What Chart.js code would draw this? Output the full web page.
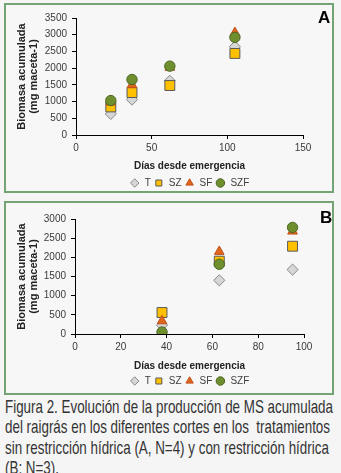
<!DOCTYPE html>
<html>
<head>
<meta charset="utf-8">
<script src="https://cdn.jsdelivr.net/npm/chart.js@4.4.1/dist/chart.umd.min.js"></script>
<style>
  html, body { margin: 0; padding: 0; background: #f5f5f5; }
  body { width: 341px; height: 473px; position: relative; overflow: hidden; font-family: "Liberation Sans", Arial, sans-serif; }
  .panel { position: absolute; left: 4px; width: 326px; border: 2px solid #74a474; background: #f7f7f7; }
  #pA { top: 3px; height: 186px; }
  #pB { top: 201px; height: 190px; }
  .panel canvas { position: absolute; left: 0; top: 0; }
  .tag { position: absolute; font: bold 17px "Liberation Sans", Arial, sans-serif; color: #000; }
  #caption { position: absolute; left: 5px; top: 397px; color: #333; font-family: "Liberation Sans Narrow", "Liberation Sans", Arial, sans-serif; font-size: 19px; line-height: 20.3px; white-space: nowrap; transform-origin: 0 0; }
</style>
</head>
<body>
<div class="panel" id="pA"><canvas id="cA" width="326" height="186"></canvas><div class="tag" style="left:312px;top:3px;">A</div></div>
<div class="panel" id="pB"><canvas id="cB" width="326" height="190"></canvas><div class="tag" style="left:314px;top:5px;">B</div></div>
<div id="caption">
<div>Figura 2. Evolución de la producción de MS acumulada</div>
<div>del raigrás en los diferentes cortes en los&nbsp; tratamientos</div>
<div>sin restricción hídrica (A, N=4) y con restricción hídrica</div>
<div>(B; N=3).</div>
</div>
<script>
// ---- Data ----
const seriesNames = ['T', 'SZ', 'SF', 'SZF'];

const daysA = [23, 37, 62, 105];
const A_T   = [630, 1060, 1620, 2640];
const A_SZ  = [840, 1270, 1480, 2440];
const A_SF  = [980, 1500, 2020, 3060];
const A_SZF = [1030, 1660, 2060, 2920];

const daysB = [38, 63, 95];
const B_T   = [230, 1400, 1680];
const B_SZ  = [560, 1900, 2290];
const B_SF  = [340, 2150, 2680];
const B_SZF = [50, 1820, 2780];

const xTicksA = [0, 50, 100, 150];
const yTicksA = [0, 500, 1000, 1500, 2000, 2500, 3000, 3500];
const xTicksB = [0, 20, 40, 60, 80, 100];
const yTicksB = [0, 500, 1000, 1500, 2000, 2500, 3000];

const yTitle = ['Biomasa acumulada', '(mg maceta-1)'];
const xTitle = 'Días desde emergencia';

// ---- Styles ----
const styles = [
  { pointStyle: 'rectRot',  pointRadius: 5.6, backgroundColor: '#d6d6d6', borderColor: '#8a8a8a', order: 3 },
  { pointStyle: 'rect',     pointRadius: 7,   backgroundColor: '#ffc000', borderColor: '#595959', order: 2 },
  { pointStyle: 'triangle', pointRadius: 5.6, backgroundColor: '#e0661c', borderColor: '#c0501a', order: 1 },
  { pointStyle: 'circle',   pointRadius: 5.2, backgroundColor: '#6f8f2e', borderColor: '#4c6620', order: 0 }
];

function build(id, days, vals, xT, yT, dims) {
  const datasets = vals.map((v, i) => Object.assign({
    label: seriesNames[i],
    data: days.map((d, j) => ({ x: d, y: v[j] })),
    showLine: false,
    borderWidth: 1,
    pointHoverRadius: styles[i].pointRadius
  }, styles[i]));
  const tickFont = { family: 'Liberation Sans', size: 10 };
  const legendHeight = {
    id: 'legendHeight',
    beforeInit(chart) {
      const lg = chart.legend;
      if (!lg) return;
      const orig = lg.fit.bind(lg);
      lg.fit = function () { orig(); this.height = dims.lh; };
    }
  };
  return new Chart(document.getElementById(id), {
    type: 'scatter',
    data: { datasets },
    plugins: [legendHeight],
    options: {
      responsive: false,
      devicePixelRatio: 1,
      animation: false,
      layout: { padding: { left: 0, right: dims.right, top: dims.top, bottom: 0 } },
      plugins: {
        tooltip: { enabled: false },
        legend: {
          position: 'bottom',
          fullSize: false,
          labels: {
            usePointStyle: true,
            boxHeight: 6,
            padding: 3,
            color: '#404040',
            font: { family: 'Liberation Sans', size: 10 },
            sort: (a, b) => a.datasetIndex - b.datasetIndex
          }
        }
      },
      scales: {
        x: {
          type: 'linear',
          min: xT[0], max: xT[xT.length - 1],
          afterBuildTicks: s => { s.ticks = xT.map(v => ({ value: v })); },
          afterFit: s => { s.height = dims.xh; },
          ticks: { color: '#3a3a3a', font: tickFont, padding: 3, callback: v => String(v), maxRotation: 0 },
          grid: { drawOnChartArea: false, drawTicks: true, tickLength: 4, color: '#000' },
          border: { color: '#000', width: 1 },
          title: { display: true, text: xTitle, color: '#222', font: { family: 'Liberation Sans', size: 10, weight: 'bold' }, padding: { top: 0, bottom: dims.tpb } }
        },
        y: {
          type: 'linear',
          min: yT[0], max: yT[yT.length - 1],
          afterBuildTicks: s => { s.ticks = yT.map(v => ({ value: v })); },
          afterFit: s => { s.width = dims.yw; },
          ticks: { color: '#3a3a3a', font: tickFont, padding: 5, callback: v => String(v) },
          grid: { drawOnChartArea: false, drawTicks: true, tickLength: 4, color: '#000' },
          border: { color: '#000', width: 1 },
          title: { display: true, text: yTitle, color: '#222', font: { family: 'Liberation Sans', size: 11, weight: 'bold', lineHeight: 1.1 }, padding: { top: 10, bottom: 0 } }
        }
      }
    }
  });
}

build('cA', daysA, [A_T, A_SZ, A_SF, A_SZF], xTicksA, yTicksA, { right: 29, top: 13, xh: 40, yw: 70, lh: 16, tpb: 3 });
build('cB', daysB, [B_T, B_SZ, B_SF, B_SZF], xTicksB, yTicksB, { right: 28, top: 16, xh: 39, yw: 69, lh: 20, tpb: 1 });

// fit caption width to the reference column
(function () {
  const cap = document.getElementById('caption');
  const first = cap.firstElementChild;
  const r = document.createRange();
  r.selectNodeContents(first);
  const w = r.getBoundingClientRect().width;
  if (w > 0) cap.style.transform = 'scaleX(' + (328 / w) + ')';
})();
</script>
</body>
</html>
